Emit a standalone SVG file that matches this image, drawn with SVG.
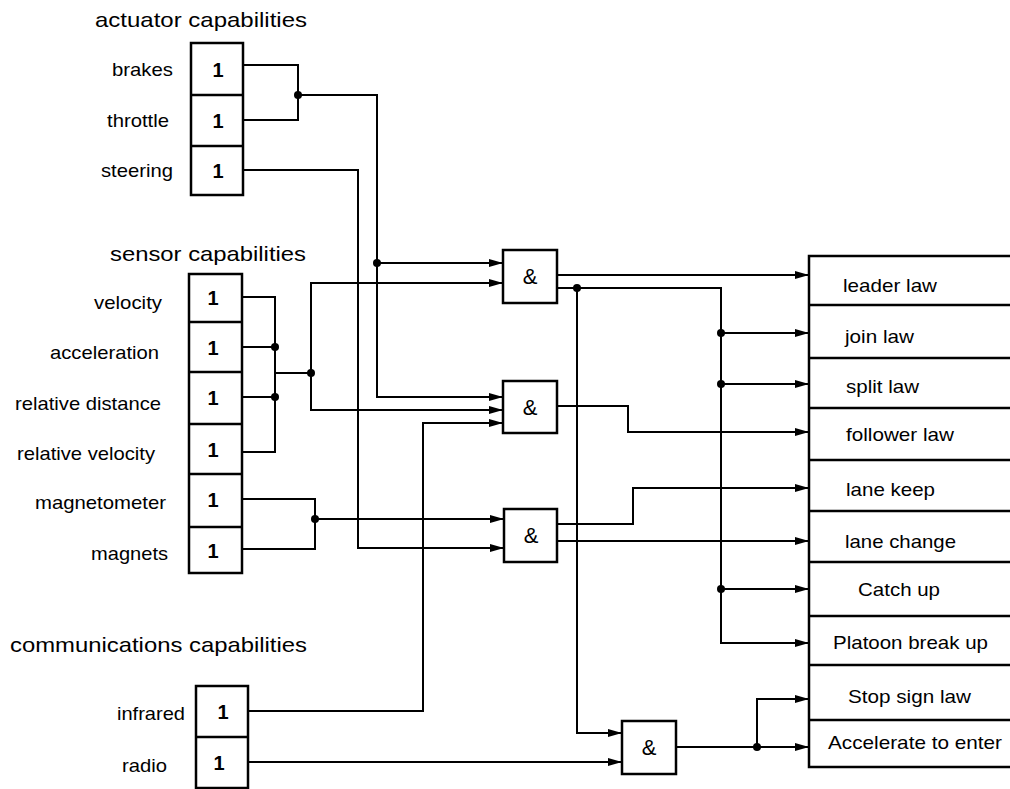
<svg xmlns="http://www.w3.org/2000/svg" width="1010" height="789" viewBox="0 0 1010 789">
<defs>
<style>
text{font-family:"Liberation Sans",Arial,sans-serif;fill:#000}
.t{font-size:21px}
.l{font-size:19px}
.one{font-size:20px;font-weight:bold;text-anchor:middle}
.amp{font-size:22px;text-anchor:middle}
.box{fill:#fff;stroke:#000;stroke-width:2.5}
.ln{fill:none;stroke:#000;stroke-width:2}
.ar{fill:none;stroke:#000;stroke-width:2;marker-end:url(#ah)}
.dot{fill:#000}
</style>
<marker id="ah" markerUnits="userSpaceOnUse" markerWidth="15" markerHeight="9" refX="14" refY="4" orient="auto">
<path d="M0,0 L14,4 L0,8 z" fill="#000"/>
</marker>
</defs>
<rect width="1010" height="789" fill="#fff"/>

<g id="titles">
<text class="t" x="95" y="27" textLength="212" lengthAdjust="spacingAndGlyphs">actuator capabilities</text>
<text class="t" x="110" y="261" textLength="196" lengthAdjust="spacingAndGlyphs">sensor capabilities</text>
<text class="t" x="10" y="652" textLength="297" lengthAdjust="spacingAndGlyphs">communications capabilities</text>
</g>

<g id="actuators">
<rect class="box" x="191" y="43" width="52" height="152"/>
<line class="box" x1="191" y1="95" x2="243" y2="95"/>
<line class="box" x1="191" y1="146" x2="243" y2="146"/>
<text class="l" x="112" y="76" textLength="61" lengthAdjust="spacingAndGlyphs">brakes</text>
<text class="l" x="107" y="127" textLength="62" lengthAdjust="spacingAndGlyphs">throttle</text>
<text class="l" x="101" y="177" textLength="72" lengthAdjust="spacingAndGlyphs">steering</text>
<text class="one" x="218" y="77">1</text>
<text class="one" x="218" y="128">1</text>
<text class="one" x="218" y="178">1</text>
</g>

<g id="sensors">
<rect class="box" x="189" y="274" width="53" height="299"/>
<line class="box" x1="189" y1="322" x2="242" y2="322"/>
<line class="box" x1="189" y1="372" x2="242" y2="372"/>
<line class="box" x1="189" y1="424" x2="242" y2="424"/>
<line class="box" x1="189" y1="474" x2="242" y2="474"/>
<line class="box" x1="189" y1="527" x2="242" y2="527"/>
<text class="l" x="94" y="309" textLength="68" lengthAdjust="spacingAndGlyphs">velocity</text>
<text class="l" x="50" y="359" textLength="109" lengthAdjust="spacingAndGlyphs">acceleration</text>
<text class="l" x="15" y="410" textLength="146" lengthAdjust="spacingAndGlyphs">relative distance</text>
<text class="l" x="17" y="460" textLength="138" lengthAdjust="spacingAndGlyphs">relative velocity</text>
<text class="l" x="35" y="509" textLength="131" lengthAdjust="spacingAndGlyphs">magnetometer</text>
<text class="l" x="91" y="560" textLength="77" lengthAdjust="spacingAndGlyphs">magnets</text>
<text class="one" x="213" y="305">1</text>
<text class="one" x="213" y="355">1</text>
<text class="one" x="213" y="405">1</text>
<text class="one" x="213" y="457">1</text>
<text class="one" x="213" y="507">1</text>
<text class="one" x="213" y="558">1</text>
</g>

<g id="communications">
<rect class="box" x="196" y="686" width="52" height="102"/>
<line class="box" x1="196" y1="737" x2="248" y2="737"/>
<text class="l" x="117" y="720" textLength="68" lengthAdjust="spacingAndGlyphs">infrared</text>
<text class="l" x="122" y="772" textLength="45" lengthAdjust="spacingAndGlyphs">radio</text>
<text class="one" x="223" y="719">1</text>
<text class="one" x="219" y="770">1</text>
</g>

<g id="gate1"><rect class="box" x="503" y="250" width="54" height="53"/><text class="amp" x="530" y="284">&amp;</text></g>
<g id="gate2"><rect class="box" x="503" y="381" width="54" height="52"/><text class="amp" x="530" y="415">&amp;</text></g>
<g id="gate3"><rect class="box" x="504" y="509" width="53" height="53"/><text class="amp" x="531" y="543">&amp;</text></g>
<g id="gate4"><rect class="box" x="622" y="721" width="54" height="53"/><text class="amp" x="649" y="755">&amp;</text></g>

<g id="laws">
<path class="box" d="M1010 256 H809 V767 H1010"/>
<line class="box" x1="809" y1="305" x2="1010" y2="305"/>
<line class="box" x1="809" y1="358" x2="1010" y2="358"/>
<line class="box" x1="809" y1="408" x2="1010" y2="408"/>
<line class="box" x1="809" y1="460" x2="1010" y2="460"/>
<line class="box" x1="809" y1="511" x2="1010" y2="511"/>
<line class="box" x1="809" y1="562" x2="1010" y2="562"/>
<line class="box" x1="809" y1="616" x2="1010" y2="616"/>
<line class="box" x1="809" y1="665" x2="1010" y2="665"/>
<line class="box" x1="809" y1="720" x2="1010" y2="720"/>
<text class="l" x="843" y="292" textLength="94" lengthAdjust="spacingAndGlyphs">leader law</text>
<text class="l" x="845" y="343" textLength="69" lengthAdjust="spacingAndGlyphs">join law</text>
<text class="l" x="846" y="393" textLength="73" lengthAdjust="spacingAndGlyphs">split law</text>
<text class="l" x="846" y="441" textLength="108" lengthAdjust="spacingAndGlyphs">follower law</text>
<text class="l" x="846" y="496" textLength="89" lengthAdjust="spacingAndGlyphs">lane keep</text>
<text class="l" x="845" y="548" textLength="111" lengthAdjust="spacingAndGlyphs">lane change</text>
<text class="l" x="858" y="596" textLength="82" lengthAdjust="spacingAndGlyphs">Catch up</text>
<text class="l" x="833" y="649" textLength="155" lengthAdjust="spacingAndGlyphs">Platoon break up</text>
<text class="l" x="848" y="703" textLength="123" lengthAdjust="spacingAndGlyphs">Stop sign law</text>
<text class="l" x="828" y="749" textLength="174" lengthAdjust="spacingAndGlyphs">Accelerate to enter</text>
</g>

<g id="connectors">
<path class="ln" d="M243 65 H298 V120 H243"/>
<path class="ar" d="M298 95 H377 V397 H503"/>
<path class="ar" d="M377 263 H503"/>
<path class="ar" d="M243 170 H358 V548 H504"/>
<path class="ln" d="M242 297 H275 V452 H242"/>
<path class="ln" d="M242 347 H275 M242 397 H275 M275 373 H311"/>
<path class="ar" d="M311 373 V283 H503"/>
<path class="ar" d="M311 373 V410 H503"/>
<path class="ln" d="M242 499 H315 V549 H242"/>
<path class="ar" d="M315 519 H504"/>
<path class="ar" d="M248 711 H423 V423 H503"/>
<path class="ar" d="M248 762 H622"/>
<path class="ar" d="M557 275 H809"/>
<path class="ar" d="M557 288 H721 V643 H809"/>
<path class="ar" d="M577 288 V733 H622"/>
<path class="ar" d="M721 333 H809"/>
<path class="ar" d="M721 384 H809"/>
<path class="ar" d="M721 589 H809"/>
<path class="ar" d="M557 406 H628 V432 H809"/>
<path class="ar" d="M557 524 H633 V488 H809"/>
<path class="ar" d="M557 541 H809"/>
<path class="ar" d="M676 747 H809"/>
<path class="ar" d="M757 747 V699 H809"/>
<circle class="dot" cx="298" cy="95" r="4"/>
<circle class="dot" cx="377" cy="263" r="4"/>
<circle class="dot" cx="275" cy="347" r="4"/>
<circle class="dot" cx="275" cy="397" r="4"/>
<circle class="dot" cx="311" cy="373" r="4"/>
<circle class="dot" cx="315" cy="519" r="4"/>
<circle class="dot" cx="577" cy="288" r="4"/>
<circle class="dot" cx="721" cy="333" r="4"/>
<circle class="dot" cx="721" cy="384" r="4"/>
<circle class="dot" cx="721" cy="589" r="4"/>
<circle class="dot" cx="757" cy="747" r="4"/>
</g>
</svg>
